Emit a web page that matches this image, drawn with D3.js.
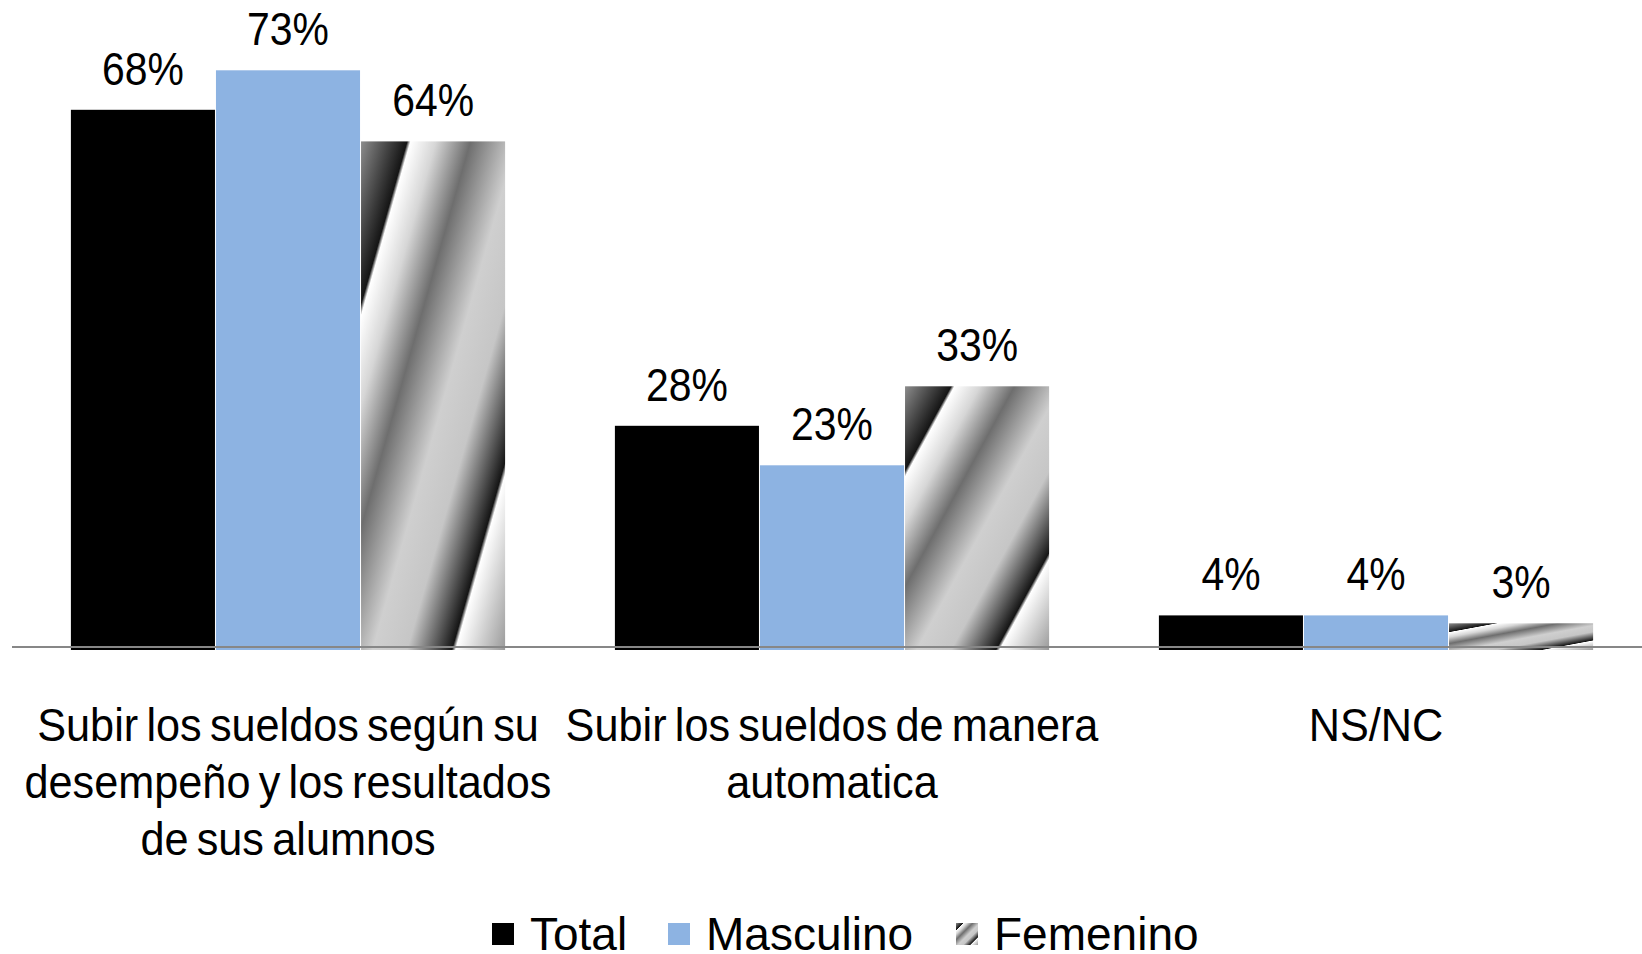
<!DOCTYPE html>
<html>
<head>
<meta charset="utf-8">
<script src="https://cdn.jsdelivr.net/npm/d3@7"></script>
<style>
  html, body { margin: 0; padding: 0; background: #fff; }
  svg text { font-family: "Liberation Sans", Arial, sans-serif; fill: #000; }
</style>
</head>
<body>
<svg id="chart" width="1642" height="954"></svg>
<script>
// Data
const categories = [
  ["Subir los sueldos según su", "desempeño y los resultados", "de sus alumnos"],
  ["Subir los sueldos de manera", "automatica"],
  ["NS/NC"]
];
const seriesNames = ["Total", "Masculino", "Femenino"];
const totalValues = [68, 28, 4];
const masculinoValues = [73, 23, 4];
const femeninoValues = [64, 33, 3];

const seriesValues = [totalValues, masculinoValues, femeninoValues];
const data = categories.map((c, i) => ({
  key: i,
  lines: c,
  values: seriesNames.map((s, j) => ({ series: s, value: seriesValues[j][i] }))
}));

const svg = d3.select('#chart');
const baseline = 647;

// gradient used for the Femenino bars
const defs = svg.append('defs');
const grad = defs.append('linearGradient')
  .attr('id', 'femGrad')
  .attr('x1', 0).attr('y1', 0).attr('x2', 1).attr('y2', 1);
[
  [0, '#8c8c8c'], [0.16, '#151515'], [0.172, '#ffffff'], [0.26, '#d6d6d6'],
  [0.38, '#6e6e6e'], [0.54, '#cfcfcf'], [0.66, '#c6c6c6'], [0.815, '#151515'],
  [0.828, '#ffffff'], [1, '#9a9a9a']
].forEach(s => grad.append('stop').attr('offset', s[0]).attr('stop-color', s[1]));

const colorScale = d3.scaleOrdinal()
  .domain(seriesNames)
  .range(['#000000', '#8db3e2', 'url(#femGrad)']);

// scales
const x0 = d3.scaleBand()
  .domain(data.map(d => d.key))
  .range([16, 1648])
  .paddingInner(0.2)
  .paddingOuter(0.1);

const x1 = d3.scaleBand()
  .domain(seriesNames)
  .range([0, x0.bandwidth()]);

const y = d3.scaleLinear()
  .domain([0, 80])
  .range([baseline, baseline - 80 * 7.9]);

// bars
const groups = svg.append('g').selectAll('g')
  .data(data)
  .join('g')
  .attr('transform', d => `translate(${x0(d.key)},0)`);

groups.selectAll('rect')
  .data(d => d.values)
  .join('rect')
  .attr('x', d => x1(d.series) + 0.5)
  .attr('y', d => y(d.value))
  .attr('width', x1.bandwidth() - 1)
  .attr('height', d => baseline - y(d.value) + 3)
  .attr('fill', d => colorScale(d.series));

// value labels (squeezed a little horizontally, like the narrow original font)
groups.selectAll('text.val')
  .data(d => d.values)
  .join('text')
  .attr('class', 'val')
  .attr('transform', d => `translate(${x1(d.series) + x1.bandwidth() / 2},${y(d.value) - 25}) scale(0.87,1)`)
  .attr('text-anchor', 'middle')
  .style('font-size', '47px')
  .text(d => d.value + '%');

// x axis line
svg.append('line')
  .attr('x1', 12).attr('x2', 1642)
  .attr('y1', baseline).attr('y2', baseline)
  .attr('stroke', '#878787')
  .attr('stroke-width', 2);

// category labels
groups.append('text')
  .attr('transform', `translate(${x0.bandwidth() / 2},0) scale(0.94,1)`)
  .attr('text-anchor', 'middle')
  .style('font-size', '46px')
  .style('word-spacing', '-4px')
  .selectAll('tspan')
  .data(d => d.lines)
  .join('tspan')
  .attr('x', 0)
  .attr('y', (d, i) => 741 + i * 57)
  .text(d => d);

// legend
const legendX = [492, 668, 956];
const legend = svg.append('g').selectAll('g')
  .data(seriesNames)
  .join('g')
  .attr('transform', (d, i) => `translate(${legendX[i]}, 0)`);

legend.append('rect')
  .attr('x', 0)
  .attr('y', 923)
  .attr('width', 22)
  .attr('height', 22)
  .attr('fill', d => colorScale(d));

legend.append('text')
  .attr('x', 38)
  .attr('y', 950)
  .style('font-size', '46px')
  .text(d => d);
</script>
</body>
</html>
